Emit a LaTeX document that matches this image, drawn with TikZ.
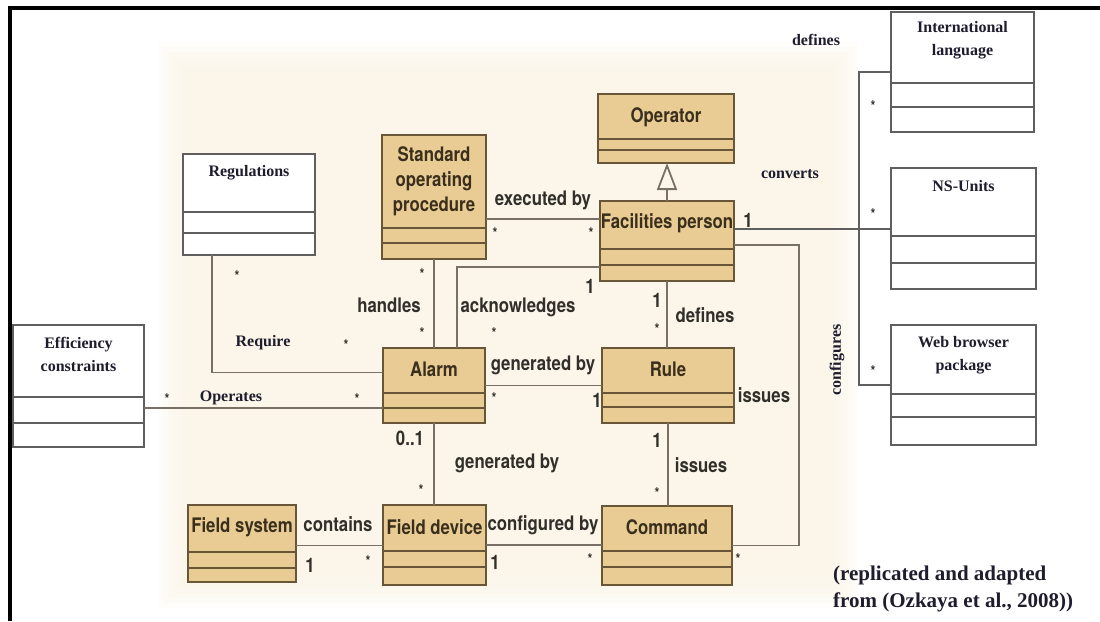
\documentclass[tikz,border=0pt]{standalone}
\usepackage{fontspec}
\setmainfont{Liberation Serif}
\newfontfamily\narrowsans[FakeStretch=0.84]{TeX Gyre Heros}
\usepackage{tikz}
\usetikzlibrary{arrows.meta, calc}
\definecolor{UMLTan}{RGB}{232,204,148}
\definecolor{UMLBrown}{RGB}{105,86,55}
\definecolor{UMLInk}{RGB}{58,46,28}
\definecolor{UMLLine}{RGB}{120,112,100}
\definecolor{UMLGray}{RGB}{95,95,95}
\definecolor{UMLText}{RGB}{50,47,43}
\definecolor{UMLSerif}{RGB}{30,28,45}
\definecolor{UMLBack}{RGB}{250,244,229}

% class box: style, name, top left, width, height,
% two compartment lines, title offset, title
\newcommand{\classbox}[9]{%
  \node[#1, minimum width=#4, minimum height=#5, anchor=north west] (#2) at #3 {};
  \draw[#1] ($(#2.north west)+(0,#6)$) -- ++(#4,0);
  \draw[#1] ($(#2.north west)+(0,#7)$) -- ++(#4,0);
  \node[#1 title] (#2-title) at ($(#2.north west)+(#4/2,#8)$) {#9};
}

\begin{document}
\begin{tikzpicture}[x=1pt, y=-1pt,
    tanbox/.style={draw=UMLBrown, fill=UMLTan, line width=1.8pt, outer sep=0pt, inner sep=0pt},
    tanbox title/.style={font=\narrowsans\bfseries\fontsize{20}{25}\selectfont,
                         text=UMLInk, align=center, inner sep=0pt},
    whitebox/.style={draw=UMLGray, fill=white, line width=1.4pt, outer sep=0pt, inner sep=0pt},
    whitebox title/.style={font=\bfseries\fontsize{16}{23}\selectfont,
                           text=UMLSerif, align=center, inner sep=0pt},
    assoc/.style={draw=UMLLine, line width=1.8pt},
    link/.style={draw=UMLGray, line width=1.4pt},
    rel/.style={font=\narrowsans\bfseries\fontsize{20}{24}\selectfont, text=UMLText, inner sep=0pt},
    serifrel/.style={font=\bfseries\fontsize{16}{18}\selectfont, text=UMLSerif, inner sep=0pt},
    star/.style={font=\narrowsans\bfseries\fontsize{15}{15}\selectfont, text=UMLText,
                 inner sep=0pt, yshift=-3.5pt}]
  \useasboundingbox (0,0) rectangle (1100,621);

  % faint backdrop behind the core model, soft edges
  \foreach \i in {0,...,6}
    \fill[UMLBack, opacity=0.22] (158+5*\i,42+5*\i) rectangle (858-5*\i,608-5*\i);

  % core classes
  \classbox{tanbox}{sop}{(382,135)}{104}{124}{93}{108}{46}{Standard\\operating\\procedure}
  \classbox{tanbox}{oper}{(598,94)}{136}{69}{45}{56}{23}{Operator}
  \classbox{tanbox}{fac}{(600,201)}{134}{80}{48}{64}{22}{Facilities person}
  \classbox{tanbox}{alarm}{(383,348)}{102}{75}{45}{60}{21}{Alarm}
  \classbox{tanbox}{rule}{(602,348)}{132}{75}{45}{59}{21}{Rule}
  \classbox{tanbox}{fsys}{(188,505)}{108}{77}{47}{63}{22}{Field system}
  \classbox{tanbox}{fdev}{(383,505)}{103}{80}{46}{62}{22}{Field device}
  \classbox{tanbox}{cmd}{(602,506)}{130}{79}{45}{61}{21}{Command}

  % added classes
  \classbox{whitebox}{reg}{(183,154)}{132}{101}{58}{79}{19}{Regulations}
  \classbox{whitebox}{eff}{(13,325)}{131}{122}{72}{98}{29}{Efficiency\\constraints}
  \classbox{whitebox}{intl}{(891,12)}{143}{120}{71}{95}{28}{International\\language}
  \classbox{whitebox}{nsu}{(891,168)}{145}{121}{68}{95}{18}{NS-Units}
  \classbox{whitebox}{web}{(891,325)}{145}{120}{69}{92}{30}{Web browser\\package}

  % generalization
  \draw[assoc, -{Triangle[open, width=20pt, length=27pt]}] (fac.north) -- (fac.north |- oper.south);

  % associations
  \draw[assoc] ([yshift=-22pt]sop.east) -- ([yshift=-22pt]sop.east -| fac.west);
  \draw[assoc] (sop.south) -- (sop.south |- alarm.north);
  \draw[assoc] ([yshift=-26pt]fac.west) -| ([xshift=23pt]alarm.north);
  \draw[assoc] (fac.south) -- (fac.south |- rule.north);
  \draw[assoc] (alarm.east) -- (alarm.east -| rule.west);
  \draw[assoc] ([yshift=-4pt]fac.east) -- ++(65,0) |- (cmd.east);
  \draw[assoc] (rule.south) -- (rule.south |- cmd.north);
  \draw[assoc] (alarm.south) -- (alarm.south |- fdev.north);
  \draw[assoc] (fdev.east) -- (fdev.east -| cmd.west);
  \draw[assoc] ([yshift=-2pt]fsys.east) -- ([yshift=-2pt]fsys.east -| fdev.west);
  \draw[assoc] ([yshift=-22pt]eff.east) -- ([yshift=-22pt]eff.east -| alarm.west);
  \draw[assoc] ([xshift=-37pt]reg.south) |- ([yshift=13pt]alarm.west);
  \draw[link] ([yshift=12pt]fac.east) -- ([yshift=12pt]fac.east -| nsu.west);
  \draw[link] (intl.west) -- ++(-32,0) |- (web.west);

  % association names
  \node[rel] (n-exec) at (543,200) {executed by};
  \node[rel] (n-hand) at (389,305) {handles};
  \node[rel] (n-ack) at (518,307) {acknowledges};
  \node[rel] (n-def) at (705,315) {defines};
  \node[rel] (n-gen) at (543,365) {generated by};
  \node[rel] (n-iss) at (764,395) {issues};
  \node[rel] (n-gen2) at (507,463) {generated by};
  \node[rel] (n-iss2) at (701,465) {issues};
  \node[rel] (n-conf) at (543,525) {configured by};
  \node[rel] (n-cont) at (338,524) {contains};
  \node[serifrel] (n-oper) at (231,398) {Operates};
  \node[serifrel] (n-req) at (263,343) {Require};
  \node[serifrel] (n-defs) at (816,40) {defines};
  \node[serifrel] (n-conv) at (790,174) {converts};
  \node[serifrel, rotate=90] (n-cfg) at (837,360) {configures};

  % multiplicities
  \node[star] (s1) at (495,230) {*};
  \node[star] (s2) at (591,230) {*};
  \node[star] (s3) at (422,271) {*};
  \node[star] (s4) at (422,330) {*};
  \node[star] (s5) at (494,330) {*};
  \node[star] (s6) at (657,326) {*};
  \node[star] (s7) at (494,395) {*};
  \node[star] (s8) at (738,556) {*};
  \node[star] (s9) at (657,490) {*};
  \node[star] (s10) at (590,556) {*};
  \node[star] (s11) at (421,487) {*};
  \node[star] (s12) at (368,558) {*};
  \node[star] (s13) at (167,396) {*};
  \node[star] (s14) at (357,396) {*};
  \node[star] (s15) at (237,273) {*};
  \node[star] (s16) at (346,342) {*};
  \node[star] (s17) at (873,103) {*};
  \node[star] (s18) at (873,211) {*};
  \node[star] (s19) at (873,368) {*};
  \node[rel] (o1) at (590,286) {1};
  \node[rel] (o2) at (657,300) {1};
  \node[rel] (o3) at (597,400) {1};
  \node[rel] (o4) at (657,440) {1};
  \node[rel] (o5) at (495,562) {1};
  \node[rel] (o6) at (310,565) {1};
  \node[rel] (o7) at (748,220) {1};
  \node[rel] (o8) at (410,438) {0..1};

  % source note
  \node[font=\bfseries\fontsize{21}{27}\selectfont, text=UMLSerif, align=left,
        anchor=west, inner sep=0pt] (src) at (833,589)
        {(replicated and adapted\\from (Ozkaya et al., 2008))};

  % frame
  \draw[line width=4pt] (1100,8) -- (10,8) -- (10,621);
\end{tikzpicture}
\end{document}
